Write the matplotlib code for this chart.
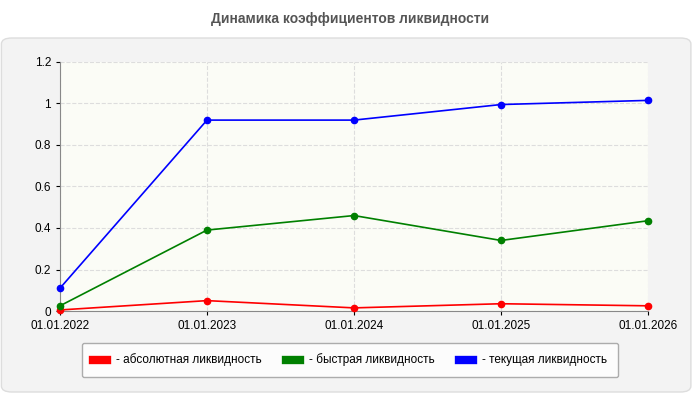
import matplotlib
matplotlib.use("Agg")
import matplotlib.pyplot as plt
from matplotlib.patches import FancyBboxPatch

dates = ["01.01.2022", "01.01.2023", "01.01.2024", "01.01.2025", "01.01.2026"]
absolute = [0.005, 0.05, 0.015, 0.035, 0.025]
quick = [0.025, 0.39, 0.46, 0.34, 0.435]
current = [0.11, 0.92, 0.92, 0.995, 1.015]
yticks = [0, 0.2, 0.4, 0.6, 0.8, 1, 1.2]
ylabels = ["0", "0.2", "0.4", "0.6", "0.8", "1", "1.2"]

plt.rcParams['font.family'] = ['Arial', 'Liberation Sans', 'DejaVu Sans']
fig = plt.figure(figsize=(7, 4), dpi=100)
fig.patch.set_facecolor("white")
bg = FancyBboxPatch((0.002, 0.02), 0.985, 0.885, boxstyle="round,pad=0,rounding_size=0.015",
                    transform=fig.transFigure, facecolor="#f3f3f3", edgecolor="#dddddd", lw=1,
                    zorder=-10)
fig.patches.append(bg)
fig.text(0.5, 0.952, "Динамика коэффициентов ликвидности", ha="center", va="center",
         fontsize=10, fontweight="bold", color="#555555")

ax = fig.add_axes([0.0857, 0.2225, 0.84, 0.6225])
ax.set_zorder(5)
ax.set_facecolor("#fbfcf6")
x = list(range(len(dates)))
for vals, c, lab in [(absolute, "#ff0000", "- абсолютная ликвидность"),
                     (quick, "#008000", "- быстрая ликвидность"),
                     (current, "#0000ff", "- текущая ликвидность")]:
    ax.plot(x, vals, color=c, lw=1.2, marker="o", ms=4.5, label=lab, clip_on=False, zorder=3)
ax.set_xlim(0, 4)
ax.set_ylim(0, 1.2)
ax.set_xticks(x, dates)
ax.set_yticks(yticks, ylabels)
ax.tick_params(labelsize=8.5, colors="#000000", length=3)
ax.grid(True, color="#dddddd", ls="--", lw=0.8)
for s in ["top", "right"]:
    ax.spines[s].set_visible(False)
for s in ["left", "bottom"]:
    ax.spines[s].set_color("#888888")

leg = fig.legend(loc="center", bbox_to_anchor=(0.5, 0.1), ncol=3, fontsize=8.5,
                 frameon=True, fancybox=True, edgecolor="#999999", facecolor="white",
                 handlelength=1.2, handleheight=0.6, columnspacing=2.0, borderpad=0.9)
leg.set_zorder(6)
for h in leg.legend_handles:
    h.set_linewidth(6)
    h.set_marker("")
fig.savefig("out.png", dpi=100)
